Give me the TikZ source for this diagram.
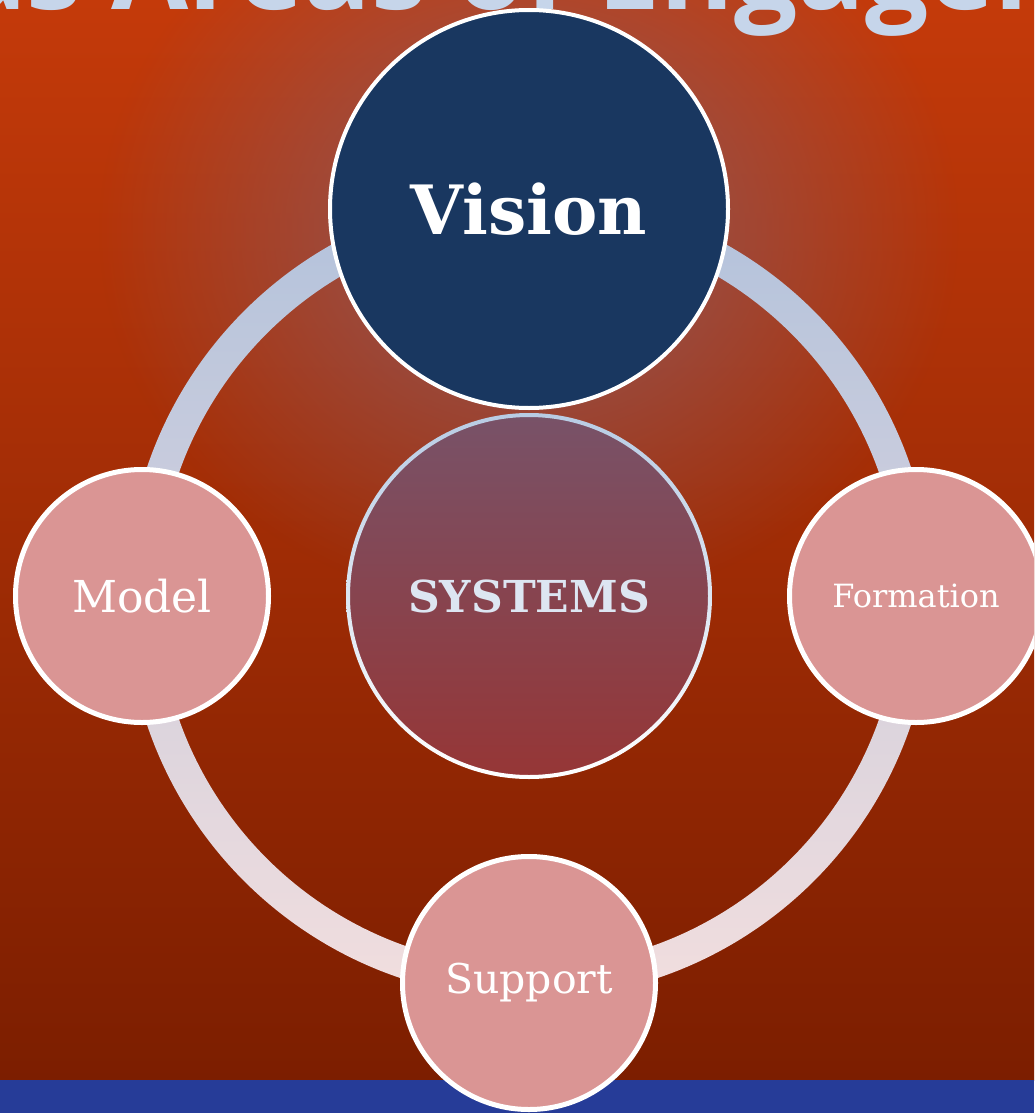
\documentclass[tikz,border=0pt]{standalone}
\usepackage{fontspec}
\setmainfont{DejaVu Serif}
\newfontfamily\headfont{Open Sans}
\usetikzlibrary{positioning,fadings}
\pgfdeclarelayer{background}
\pgfdeclarelayer{ring}
\pgfsetlayers{background,ring,main}
\definecolor{bgTop}{HTML}{C43A0A}
\definecolor{bgBottom}{HTML}{7C1E00}
\definecolor{glow}{HTML}{8E5A60}
\definecolor{barBlue}{HTML}{263C98}
\definecolor{ringTop}{HTML}{B2C2DC}
\definecolor{ringBottom}{HTML}{F2DEDE}
\definecolor{visionFill}{HTML}{193760}
\definecolor{sysTop}{HTML}{785268}
\definecolor{sysBottom}{HTML}{963636}
\definecolor{sysEdge}{HTML}{B8CCE4}
\definecolor{sysText}{HTML}{DDE6F2}
\definecolor{petal}{HTML}{DA9594}
\definecolor{headText}{HTML}{C6D5EA}
\tikzfading[name=glowfade, inner color=transparent!0, outer color=transparent!100]

\begin{document}
\begin{tikzpicture}[x=1pt,y=-1pt,node distance=387pt,on grid,
  area/.style={circle,draw=white,line width=5pt,fill=petal,text=white,
    minimum size=253pt,inner sep=0pt},
  hub/.style={circle,top color=sysTop,bottom color=sysBottom,text=sysText,
    minimum size=362pt,inner sep=0pt,font=\fontsize{44}{48}\selectfont\bfseries},
  goal/.style={circle,draw=white,line width=4pt,fill=visionFill,text=white,
    minimum size=398pt,inner sep=0pt,font=\fontsize{68}{72}\selectfont\bfseries},
  title/.style={text=headText,font=\headfont\bfseries\fontsize{112}{120}\selectfont,
    inner sep=0pt}]
  \useasboundingbox (0,0) rectangle (1034,1113);
  \clip (0,0) rectangle (1034,1113);

  % centre and the four areas
  \node[hub] (systems) at (529,596) {SYSTEMS};
  \shade[top color=sysEdge,bottom color=white,even odd rule]
    (systems.center) circle (183) (systems.center) circle (179);
  \node[goal] (vision) [above=of systems] {Vision};
  \node[area,font=\fontsize{44}{48}\selectfont] (model) [left=of systems] {Model};
  \node[area,font=\fontsize{32}{36}\selectfont] (formation) [right=of systems] {Formation};
  \node[area,font=\fontsize{41}{44}\selectfont] (support) [below=of systems] {Support};

  % backdrop
  \begin{pgfonlayer}{background}
    \shade[top color=bgTop,bottom color=bgBottom] (0,0) rectangle (1034,1080);
    \fill[glow,path fading=glowfade] (529,230) ellipse (430 and 380);
    \node[title,anchor=base west] (heading) at (-41,10) {as Areas of Engagement};
    \fill[barBlue] (0,1080) rectangle (1034,1113);
  \end{pgfonlayer}

  % the ring through the areas
  \begin{pgfonlayer}{ring}
    \shade[top color=ringTop,bottom color=ringBottom,even odd rule]
      (systems.center) circle (403) (systems.center) circle (371);
  \end{pgfonlayer}
\end{tikzpicture}
\end{document}
